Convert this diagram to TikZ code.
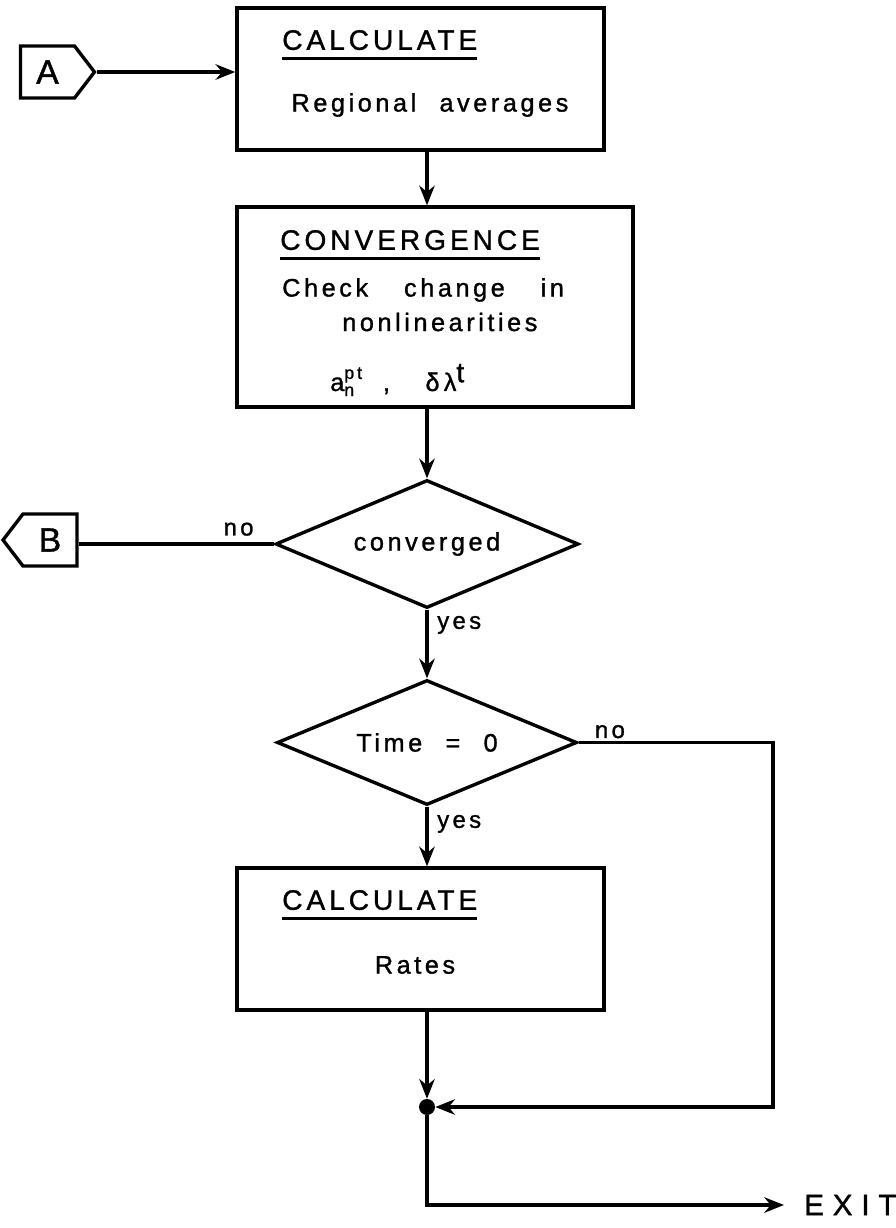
\documentclass[tikz,border=0pt]{standalone}
\usepackage{amsmath}
\usepackage{fontspec}
\setmainfont{Liberation Sans}[LetterSpace=14, WordSpace=2.2, FakeBold=1.2]
\usepackage{tikz}
\usetikzlibrary{
  positioning, shapes, shapes.geometric, shapes.symbols,
  arrows, arrows.meta, calc
}
\newcommand{\titleul}[1]{\vtop{\hbox{#1}\kern5pt\hrule height 2pt}}
\tikzset{
  procbox/.style={
    draw, line width=2.4pt,
    minimum width=9.175cm, minimum height=3.55cm
  },
  decision/.style={
    diamond, draw, line width=2.4pt, aspect=2.4,
    minimum width=7.575cm, minimum height=3.2cm, inner sep=0pt,
    font=\fontsize{18}{20}\selectfont
  },
  offpage/.style={
    signal, draw, line width=2.4pt, signal pointer angle=105,
    minimum width=1.85cm, minimum height=1.3cm, inner sep=0pt,
    font=\fontsize{24}{26}\selectfont
  },
  title/.style={anchor=west, inner sep=0pt, font=\fontsize{20}{22}\selectfont},
  body/.style={inner sep=0pt, font=\fontsize{18}{20}\selectfont},
  lbl/.style={inner sep=0pt, font=\fontsize{17}{19}\selectfont},
  arrow/.style={-{Stealth[length=14pt,width=11pt]}, line width=2.2pt},
  line/.style={line width=2.2pt}
}

\begin{document}
\begin{tikzpicture}
\useasboundingbox (0,0) rectangle (22.4,-30.7);
\coordinate (spine) at (10.675,0);

%% Connectors
\node[offpage, signal to=east] (A) at (1.1875,-1.8) {A};
\node[offpage, signal to=west] (B) at (1.25,-13.5) {B};

%% Boxes and decisions
\node[procbox, minimum width=9.175cm] (box1) at (10.5125,-1.975) {};
\node[procbox, minimum width=9.9cm, minimum height=5cm] (box2) at (10.875,-7.675) {};
\node[decision] (d1) at (10.675,-13.6) {converged};
\node[decision, minimum width=7.5cm, minimum height=3.125cm] (d2) at (10.675,-18.5625) {Time = 0};
\node[procbox] (box3) at (10.5125,-23.475) {};

%% Box texts
\node[title] (t1) at (7.05,-1.125) {\titleul{CALCULATE}};
\node[body] (r1) at (10.75,-2.625) {Regional averages};
\node[title] (t2) at (7.0,-6.125) {\titleul{CONVERGENCE}};
\node[body, anchor=west] (c2) at (7.05,-7.25) {Check\hspace{0.5em} change\hspace{0.5em} in};
\node[body, anchor=west] (n2) at (8.55,-8.05) {nonlinearities};
\node[body, anchor=west] (m2) at (8.25,-9.5) {$\text{a}_{\text{n}}^{\text{p\,t}}$\hspace{0.8em},\hspace{1.4em}δ\,λ\textsuperscript{\fontsize{20}{20}\selectfont t}};
\node[title] (t3) at (7.05,-22.625) {\titleul{CALCULATE}};
\node[body] (r3) at (10.375,-24.125) {Rates};

%% Junction and exit
\node[circle, fill, inner sep=0pt, minimum size=0.4cm] (join) at (10.675,-27.675) {};
\coordinate (loop) at (19.325,-27.675);
\coordinate (down) at (10.675,-30.125);
\node[lbl, anchor=west, font=\fontsize{21}{23}\selectfont\addfontfeature{LetterSpace=30}] (exit) at (20.1,-30.125) {EXIT};

%% Flow
\draw[arrow] (A.east) -- (A.east -| box1.west);
\draw[arrow] (box1.south -| spine) -- (box2.north -| spine);
\draw[arrow] (box2.south -| spine) -- (d1.north);
\draw[line] (d1.west) -- (d1.west -| B.east);
\draw[arrow] (d1.south) -- (d2.north);
\draw[arrow] (d2.south) -- (box3.north -| spine);
\draw[arrow] (box3.south -| spine) -- (join.north);
\draw[arrow] (d2.east) -| (loop) -- (join.east);
\draw[arrow, shorten >=0.5cm] (join) -- (down) -- (exit.west);

%% Branch labels
\node[lbl, above left=0.2cm and 0.5cm of d1.west] (no1) {no};
\node[lbl, below right=0.15cm and 0.25cm of d1.south] (yes1) {yes};
\node[lbl, above right=0.1cm and 0.4cm of d2.east] (no2) {no};
\node[lbl, below right=0.2cm and 0.25cm of d2.south] (yes2) {yes};
\end{tikzpicture}
\end{document}
